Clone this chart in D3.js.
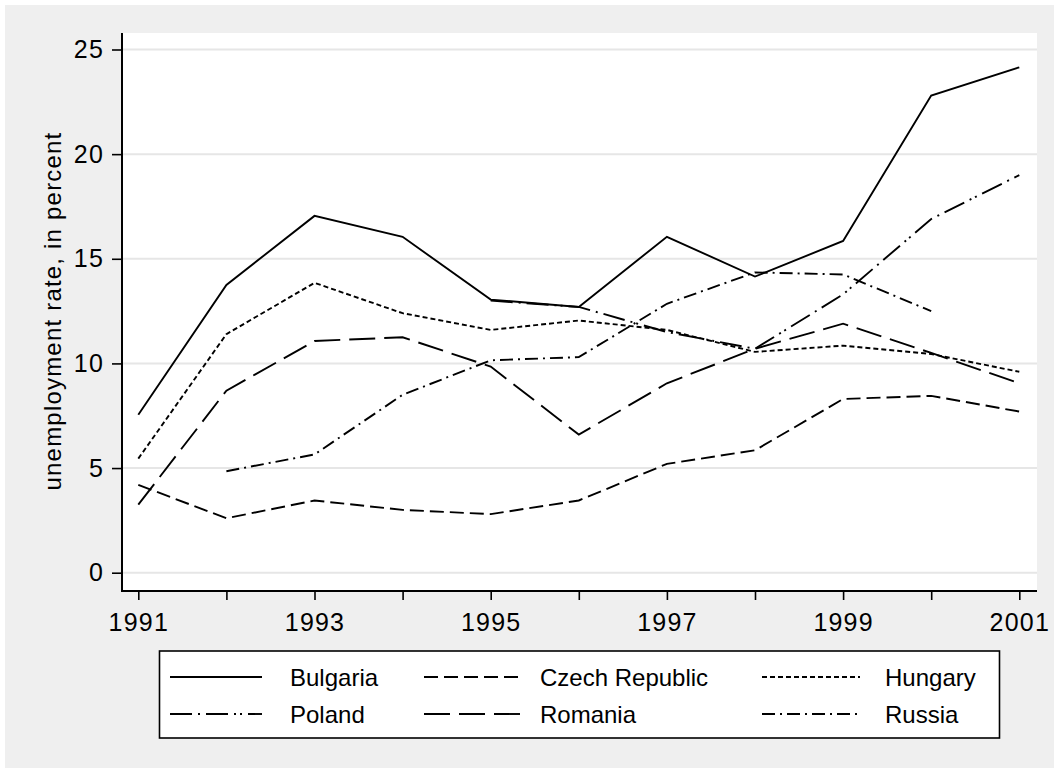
<!DOCTYPE html>
<html>
<head>
<meta charset="utf-8">
<script src="https://cdn.jsdelivr.net/npm/d3@7"></script>
<style>
	body { margin: 0; background: #fff; }
	svg text { font-family: Arial, "Liberation Sans", Helvetica, sans-serif; fill: #000; }
</style>
</head>
<body>
<svg id="chart" width="1059" height="773"></svg>
<script>
// years on the x axis
var years = [1991, 1992, 1993, 1994, 1995, 1996, 1997, 1998, 1999, 2000, 2001];

// unemployment rate, in percent (null = no data)
var bulgaria = [7.55, 13.75, 17.05, 16.05, 13.05, 12.7, 16.05, 14.15, 15.85, 22.8, 24.15];
var czechRepublic = [4.2, 2.6, 3.45, 3.0, 2.8, 3.45, 5.2, 5.85, 8.3, 8.45, 7.7];
var hungary = [5.45, 11.4, 13.85, 12.4, 11.6, 12.05, 11.6, 10.55, 10.85, 10.45, 9.6];
var poland = [null, null, null, null, 13.0, 12.7, 11.5, 10.7, 13.3, 16.9, 19.0];
var romania = [3.25, 8.7, 11.07, 11.25, 9.85, 6.6, 9.05, 10.7, 11.9, 10.5, 9.05];
var russia = [null, 4.85, 5.65, 8.5, 10.15, 10.3, 12.85, 14.35, 14.25, 12.5, null];

var yTicks = [0, 5, 10, 15, 20, 25];
var xTickLabels = [1991, 1993, 1995, 1997, 1999, 2001];

var seriesNames = ["Bulgaria", "Czech Republic", "Hungary", "Poland", "Romania", "Russia"];
var seriesValues = [bulgaria, czechRepublic, hungary, poland, romania, russia];
var dashes = ["none", "14,6", "5,3", "22,6,2,6,22,6,2,4,2,6", "26,9", "13,5,2,5"];

var svg = d3.select('#chart');

// gray outer region and white plot region
svg.append('rect')
	.attr('x', 5).attr('y', 5)
	.attr('width', 1049).attr('height', 763)
	.attr('fill', '#efefef');

var plot = { left: 122, right: 1037, top: 33, bottom: 591 };

svg.append('rect')
	.attr('x', plot.left).attr('y', plot.top)
	.attr('width', plot.right - plot.left)
	.attr('height', plot.bottom - plot.top)
	.attr('fill', '#fff');

var x = d3.scaleLinear().domain([1991, 2001]).range([138.3, 1019.3]);
var y = d3.scaleLinear().domain([0, 25]).range([572.7, 49.5]);

// horizontal grid
svg.append('g')
	.selectAll('line')
	.data(yTicks)
	.enter().append('line')
	.attr('x1', plot.left).attr('x2', plot.right)
	.attr('y1', function (d) { return y(d); })
	.attr('y2', function (d) { return y(d); })
	.attr('stroke', '#e6e6e6')
	.attr('stroke-width', 2);

// axes
var yAxis = d3.axisLeft(y)
	.tickValues(yTicks)
	.tickSize(10)
	.tickPadding(8)
	.tickFormat(d3.format('d'));

var gy = svg.append('g')
	.attr('transform', 'translate(' + plot.left + ',0)')
	.call(yAxis);
gy.select('.domain').remove();
gy.append('line')
	.attr('x1', 0).attr('x2', 0)
	.attr('y1', plot.top).attr('y2', plot.bottom + 1)
	.attr('stroke', '#000').attr('stroke-width', 2);

var xAxis = d3.axisBottom(x)
	.tickValues(years)
	.tickSize(9)
	.tickPadding(13)
	.tickFormat(function (d) { return xTickLabels.indexOf(d) >= 0 ? d : ''; });

var gx = svg.append('g')
	.attr('transform', 'translate(0,' + plot.bottom + ')')
	.call(xAxis);
gx.select('.domain').remove();
gx.append('line')
	.attr('x1', plot.left - 1).attr('x2', plot.right)
	.attr('y1', 0).attr('y2', 0)
	.attr('stroke', '#000').attr('stroke-width', 2);

svg.selectAll('.tick line').attr('stroke', '#000').attr('stroke-width', 1.6);
svg.selectAll('.tick text')
	.style('font-size', '25px')
	.style('letter-spacing', '1.2px')
	.style('font-family', 'Arial, "Liberation Sans", sans-serif')
	.attr('fill', '#000');

// y title
svg.append('text')
	.attr('transform', 'translate(61,311) rotate(-90)')
	.attr('text-anchor', 'middle')
	.style('font-size', '24px')
	.style('letter-spacing', '1.2px')
	.text('unemployment rate, in percent');

// series
var line = d3.line()
	.defined(function (d) { return d != null; })
	.x(function (d, i) { return x(years[i]); })
	.y(function (d) { return y(d); });

seriesValues.forEach(function (vals, i)
{
	svg.append('path')
		.datum(vals)
		.attr('d', line)
		.attr('fill', 'none')
		.attr('stroke', '#000')
		.attr('stroke-width', 1.9)
		.attr('stroke-dasharray', dashes[i] == 'none' ? null : dashes[i]);
});

// legend
var legend = svg.append('g');
legend.append('rect')
	.attr('x', 159.5).attr('y', 651)
	.attr('width', 840).attr('height', 87)
	.attr('fill', '#fff')
	.attr('stroke', '#000')
	.attr('stroke-width', 1.6);

var colX = [[170, 262, 290], [424, 524, 540], [762, 860, 885]];
var rowY = [677, 714];

seriesNames.forEach(function (name, i)
{
	var c = colX[i % 3], r = rowY[Math.floor(i / 3)];
	legend.append('line')
		.attr('x1', c[0]).attr('x2', c[1])
		.attr('y1', r).attr('y2', r)
		.attr('stroke', '#000')
		.attr('stroke-width', 1.9)
		.attr('stroke-dasharray', dashes[i] == 'none' ? null : dashes[i]);
	legend.append('text')
		.attr('x', c[2]).attr('y', r + 8.5)
		.style('font-size', '24px')
		.text(name);
});
</script>
</body>
</html>
